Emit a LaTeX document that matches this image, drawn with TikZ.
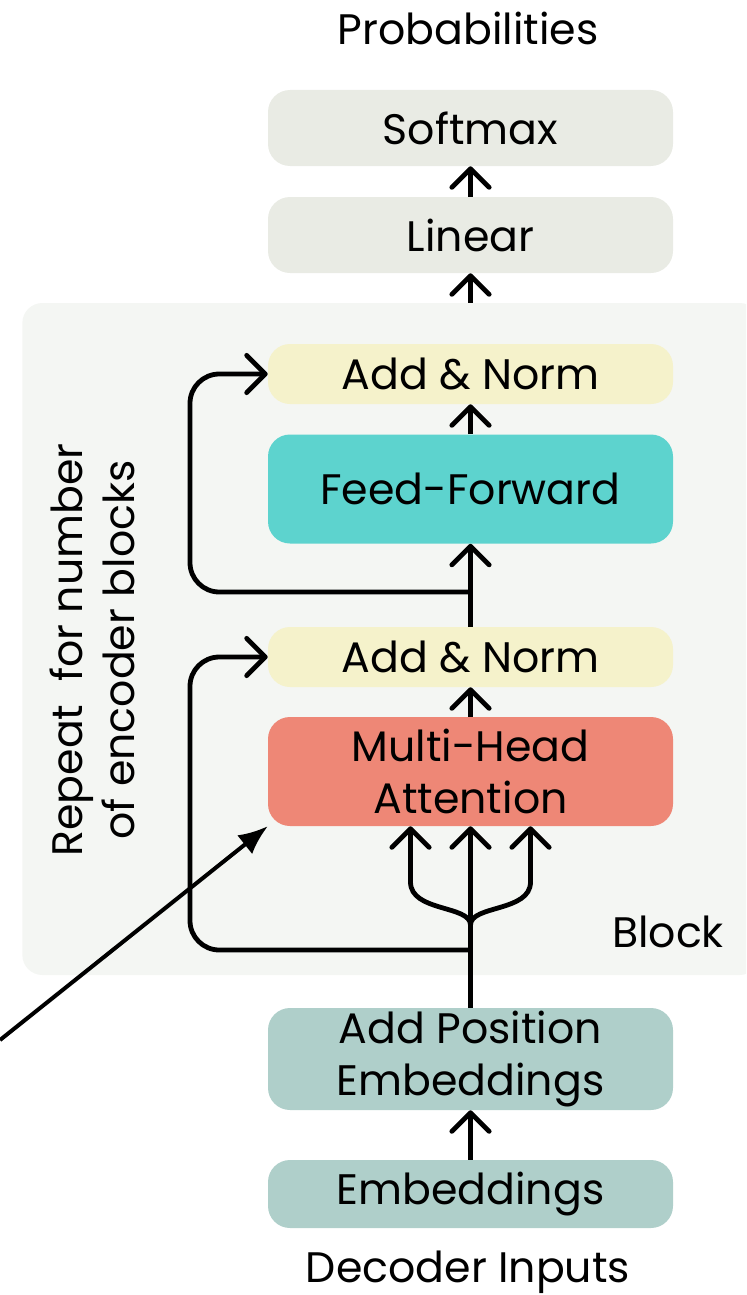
\documentclass[tikz,border=0pt]{standalone}
\usepackage{fontspec}
\setmainfont{Poppins}
\usetikzlibrary{arrows.meta,calc}
\definecolor{blockbg}{HTML}{F4F6F3}
\definecolor{greybox}{HTML}{E9EBE4}
\definecolor{normbox}{HTML}{F5F2CB}
\definecolor{ffbox}{HTML}{5DD3CE}
\definecolor{mhabox}{HTML}{EE8776}
\definecolor{embbox}{HTML}{AFCFCA}
\tikzset{
  box/.style={fill=#1, rounded corners=16.5pt, minimum width=303.75pt, inner sep=0pt, align=center},
  plain/.style={inner sep=0pt, align=center},
  conn/.style={line width=3.6pt, line join=round},
  arr/.style={conn, -{Straight Barb[length=14pt,width=28pt,line cap=round,line join=round]}},
  pointer/.style={line width=3pt, -{Latex[length=22pt,width=18pt]}}
}
\begin{document}
\begin{tikzpicture}[x=0.75pt,y=-0.75pt, font=\fontsize{32}{39}\selectfont]
\useasboundingbox (0,0) rectangle (746,1295);
\begin{scope}
\clip (0,0) rectangle (746,1295);
\node[fill=blockbg, rounded corners=15pt, minimum width=553pt, minimum height=504pt, inner sep=0pt] (block) at (391,639) {};
\end{scope}
\node[plain] (prob) at (468,28) {Probabilities};
\node[box=greybox, minimum height=57pt] (soft) at (470.5,128) {Softmax};
\node[box=greybox, minimum height=57pt] (lin) at (470.5,235) {Linear};
\node[box=normbox, minimum height=45pt] (an1) at (470.5,374) {Add \& Norm};
\node[box=ffbox, minimum height=81.75pt] (ff) at (470.5,489) {Feed-Forward};
\node[box=normbox, minimum height=45pt] (an2) at (470.5,657) {Add \& Norm};
\node[box=mhabox, minimum height=81.75pt] (mha) at (470.5,771.5) {Multi-Head\\Attention};
\node[plain] (blk) at (668,932) {Block};
\node[plain, rotate=90] (rep) at (92,650) {Repeat\ \ for number\\of encoder blocks};
\node[box=embbox, minimum height=76.5pt] (ape) at (470.5,1059) {Add Position\\Embeddings};
\node[box=embbox, minimum height=51pt] (emb) at (470.5,1194) {Embeddings};
\node[plain] (dec) at (468,1272) {Decoder Inputs};

\coordinate (r1) at (470.5,592);
\coordinate (r2) at (470.5,950);
\coordinate (fork) at (470.5,925);
\coordinate (d0) at (0,1040);

\draw[arr] (emb.north) -- (ape.south);
\draw[conn] (ape.north) -- (fork);
\draw[arr] (fork) -- (mha.south);
\draw[arr] (fork) .. controls (470.5,905) and (410.5,912) .. (410.5,882) -- ($(mha.south)+(-60,0)$);
\draw[arr] (fork) .. controls (470.5,905) and (530.5,912) .. (530.5,882) -- ($(mha.south)+(60,0)$);
\draw[arr, rounded corners=22pt] (r2) -| (190,800) |- (an2.west);
\draw[arr] (mha.north) -- (an2.south);
\draw[arr] (an2.north) -- (ff.south);
\draw[arr, rounded corners=22pt] (r1) -| (190,480) |- (an1.west);
\draw[arr] (ff.north) -- (an1.south);
\draw[arr] (block.north -| lin.south) -- (lin.south);
\draw[arr] (lin.north) -- (soft.south);
\draw[pointer] (d0) -- (mha.south west);
\end{tikzpicture}
\end{document}
